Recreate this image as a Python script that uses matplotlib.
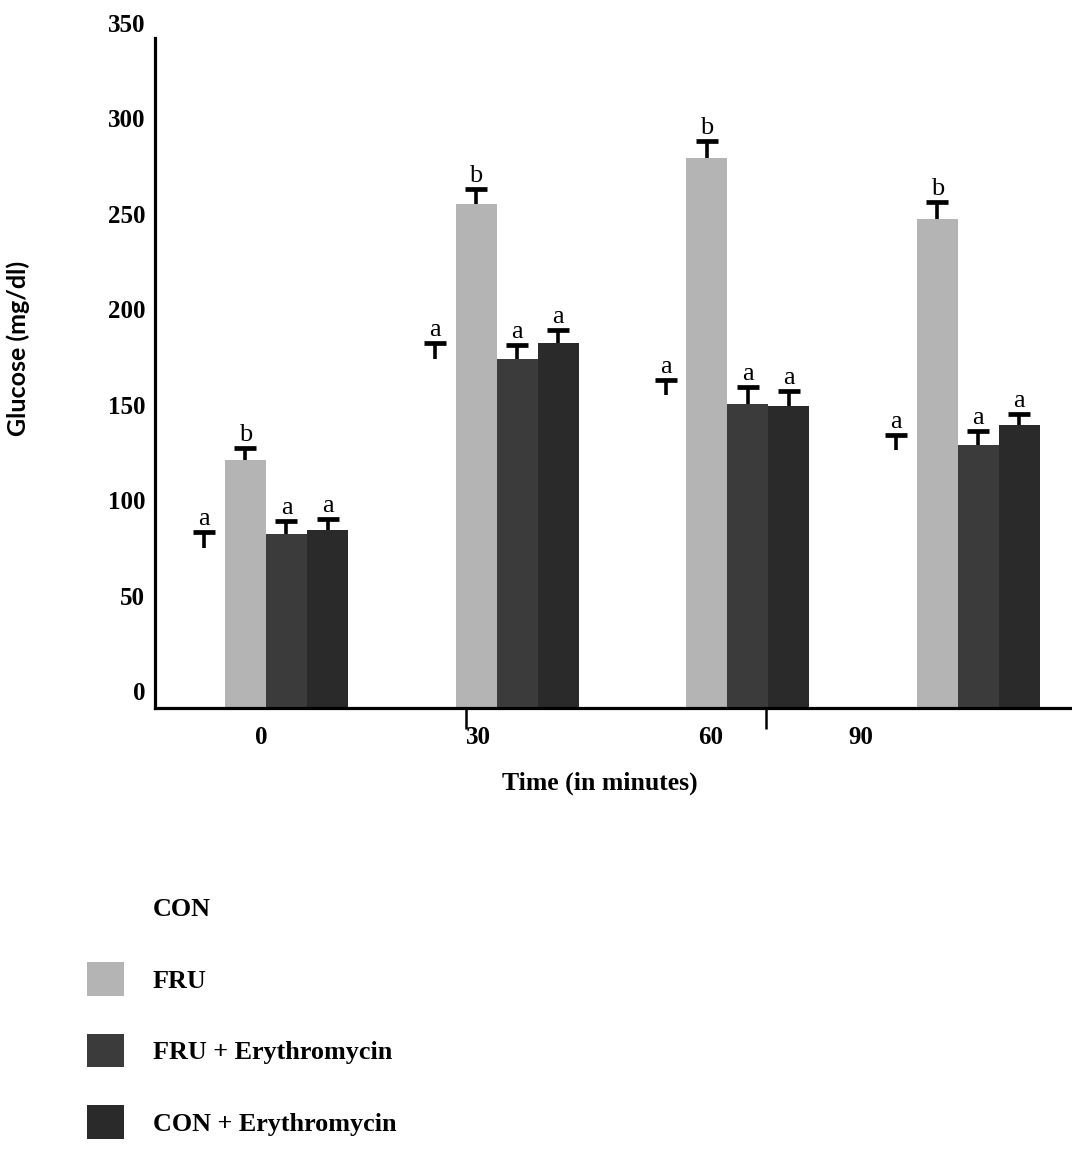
import numpy as np
import matplotlib
matplotlib.use("Agg")
import matplotlib.pyplot as plt
import matplotlib.transforms as mtransforms

# glucose (mg/dl) per time point
times = ["0", "30", "60", "90"]
names = ["CON", "FRU", "FRU + Erythromycin", "CON + Erythromycin"]

con = [84, 183, 164, 135]
con_err = [8, 8, 8, 8]
fru = [130, 264, 288, 256]
fru_err = [6, 8, 9, 9]
fru_ery = [91, 183, 159, 138]
fru_ery_err = [7, 7, 9, 7]
con_ery = [93, 191, 158, 148]
con_ery_err = [6, 7, 8, 6]

con_sig = ["a", "a", "a", "a"]
fru_sig = ["b", "b", "b", "b"]
fru_ery_sig = ["a", "a", "a", "a"]
con_ery_sig = ["a", "a", "a", "a"]

colors = ["white", "#b4b4b4", "#3b3b3b", "#2a2a2a"]

serif = "Liberation Serif"

fig = plt.figure(figsize=(10.72, 11.72), dpi=100)
ax = fig.add_axes([155 / 1072, (1172 - 708) / 1172, 917 / 1072, 670 / 1172])

x = np.arange(len(times))
w = 0.178
offsets = [-1.5, -0.5, 0.5, 1.5]
series = [(con, con_err, con_sig), (fru, fru_err, fru_sig),
          (fru_ery, fru_ery_err, fru_ery_sig), (con_ery, con_ery_err, con_ery_sig)]

handles = []
for (vals, err, sig), off, c, name in zip(series, offsets, colors, names):
    pos = x + off * w
    b = ax.bar(pos, vals, w, color=c, edgecolor="none", label=name, zorder=2)
    handles.append(b)
    _, caps, _ = ax.errorbar(pos, vals, yerr=[np.zeros(len(vals)), err], fmt="none",
                             ecolor="black", elinewidth=2.6, capsize=8, capthick=3.4,
                             zorder=3)
    # only the upper cap, like a "T"
    for cap in caps:
        if np.allclose(cap.get_ydata(), vals):
            cap.set_visible(False)
    for xi, v, e, s in zip(pos, vals, err, sig):
        ax.annotate(s, (xi, v + e), xytext=(0, 1.5), textcoords="offset points",
                    ha="center", va="bottom", fontsize=19, family=serif)

ax.set_xlim(-0.481, 3.495)
ax.set_ylim(0, 351)

for side in ["top", "right"]:
    ax.spines[side].set_visible(False)
for side in ["left", "bottom"]:
    ax.spines[side].set_linewidth(2.3)

ax.set_yticks([0, 50, 100, 150, 200, 250, 300, 350])
ax.set_yticklabels(["0", "50", "100", "150", "200", "250", "300", "350"])
ax.set_xticks([-0.02, 0.92, 1.93, 2.58])
ax.set_xticklabels(times)
ax.set_xticks([0.867, 2.168], minor=True)
ax.tick_params(axis="y", length=0, pad=7)
ax.tick_params(axis="x", which="major", length=0, pad=13)
ax.tick_params(axis="x", which="minor", direction="inout", length=30, width=1.8)

for lab in ax.get_yticklabels() + ax.get_xticklabels():
    lab.set_fontfamily(serif)
    lab.set_fontweight("bold")
    lab.set_fontsize(18)

# the scanned tick labels sit a bit above their gridline values
shift = mtransforms.ScaledTranslation(0, 0.17, fig.dpi_scale_trans)
for lab in ax.get_yticklabels():
    lab.set_transform(lab.get_transform() + shift)

ax.set_xlabel("Time (in minutes)", fontsize=18.5, family=serif, fontweight="bold")
ax.xaxis.set_label_coords(0.485, -0.112)
ax.xaxis.label.set_va("center")

ax.set_ylabel("Glucose (mg/dl)", fontsize=18, family="Lato", fontweight="bold")
ax.yaxis.set_label_coords(-0.149, 0.537)
ax.yaxis.label.set_va("center")

fig.legend(handles, names, loc="upper left", bbox_to_anchor=(87 / 1072, 1 - 891 / 1172),
           frameon=False, prop={"family": serif, "weight": "bold", "size": 18.8},
           handlelength=1.42, handleheight=1.6, labelspacing=1.45, handletextpad=1.1,
           borderpad=0, borderaxespad=0)

fig.savefig("out.png", dpi=100)
